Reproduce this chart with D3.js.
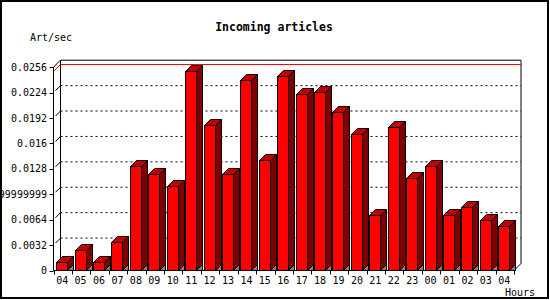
<!DOCTYPE html>
<html>
<head>
<meta charset="utf-8">
<script src="https://cdn.jsdelivr.net/npm/d3@7"></script>
<style>
  body { margin: 0; background: #fff; }
  text { font-family: "DejaVu Sans Mono", monospace; }
</style>
</head>
<body>
<svg id="chart" width="550" height="300"></svg>
<script>
// data
var hours = ["04","05","06","07","08","09","10","11","12","13","14","15","16",
             "17","18","19","20","21","22","23","00","01","02","03","04"];
var artPerSec = [0.00113, 0.00252, 0.00110, 0.00365, 0.01310, 0.01217, 0.01058,
                 0.02506, 0.01835, 0.01217, 0.02393, 0.01394, 0.02443, 0.02225,
                 0.02254, 0.02002, 0.01721, 0.00705, 0.01813, 0.01167, 0.01310,
                 0.00705, 0.00802, 0.00642, 0.00563];
var yTicks = [0, 0.0032, 0.0064, 0.0096, 0.0128, 0.016, 0.0192, 0.0224, 0.0256];
var yTickLabels = ["0","0.0032","0.0064","0.009599999999","0.0128","0.016",
                   "0.0192","0.0224","0.0256"];

var svg = d3.select("#chart");

var left = 53.5, right = 514, wall = 7, depth = 6;
var x = d3.scaleBand().domain(d3.range(hours.length)).range([left, right]);
var y = d3.scaleLinear().domain([0, 0.0256]).range([270.5, 67.2]);
var yb = function(v) { return y(v) - wall; };

// outer frame
svg.append("rect").attr("x", 1).attr("y", 1).attr("width", 547).attr("height", 297)
  .attr("fill", "none").attr("stroke", "#000").attr("stroke-width", 2);

// title and axis names
svg.append("text").attr("x", 274).attr("y", 31).attr("text-anchor", "middle")
  .style("font-size", "11.5px").style("font-weight", "bold").text("Incoming articles");
svg.append("text").attr("x", 30).attr("y", 41).style("font-size", "10px").text("Art/sec");
svg.append("text").attr("x", 505).attr("y", 296).style("font-size", "10px").text("Hours");

// back grid
var grid = svg.append("g");
grid.selectAll("line.g").data(yTicks.slice(1, -1)).enter().append("line")
  .attr("x1", left + wall).attr("x2", right + wall)
  .attr("y1", yb).attr("y2", yb)
  .attr("stroke", "#000").attr("stroke-dasharray", "2,3");
grid.selectAll("line.w").data(yTicks.slice(1, -1)).enter().append("line")
  .attr("x1", left + 2).attr("x2", left + wall)
  .attr("y1", function(d) { return y(d) - 2; }).attr("y2", yb)
  .attr("stroke", "#000");

// max line
var maxV = d3.max(artPerSec);
svg.append("path")
  .attr("d", "M" + left + "," + y(maxV) + "L" + (left + wall) + "," + yb(maxV) +
             "L" + (right + wall - 0.5) + "," + yb(maxV))
  .attr("fill", "none").attr("stroke", "#ff0000");

// frame of the plot
svg.append("path")
  .attr("d", "M" + left + "," + y(0.0256) + "L" + (left + wall) + "," + yb(0.0256) +
             "L" + (right + wall) + "," + yb(0.0256) + "L" + (right + wall) + "," + yb(0) +
             "L" + right + "," + y(0))
  .attr("fill", "none").attr("stroke", "#000");
svg.append("line").attr("x1", left + wall).attr("x2", left + wall)
  .attr("y1", yb(0.0256)).attr("y2", yb(0)).attr("stroke", "#000");

// bars
var bars = svg.append("g").attr("stroke", "#000").attr("stroke-width", 1);
artPerSec.forEach(function(v, i) {
  var x0 = Math.round(x(i) + 2.7) + 0.5, x1 = x0 + 11, t = Math.round(y(v)) + 0.5, b = y(0);
  bars.append("path").attr("fill", "#808080")
    .attr("d", "M" + x1 + "," + b + "L" + (x1 + depth) + "," + (b - depth) + "L" + (x1 + depth) + "," + b + "Z");
  bars.append("path").attr("fill", "#800000")
    .attr("d", "M" + x1 + "," + t + "L" + (x1 + depth) + "," + (t - depth) +
               "L" + (x1 + depth) + "," + (b - depth) + "L" + x1 + "," + b + "Z");
  bars.append("path").attr("fill", "#c00000")
    .attr("d", "M" + x0 + "," + t + "L" + (x0 + depth) + "," + (t - depth) +
               "L" + (x1 + depth) + "," + (t - depth) + "L" + x1 + "," + t + "Z");
  bars.append("rect").attr("fill", "#ff0000")
    .attr("x", x0).attr("y", t).attr("width", x1 - x0).attr("height", b - t);
});

// front y axis
svg.append("line").attr("x1", left).attr("x2", left)
  .attr("y1", y(0.0256)).attr("y2", y(0)).attr("stroke", "#000");
svg.selectAll("line.yt").data(yTicks).enter().append("line")
  .attr("x1", left - 4).attr("x2", left)
  .attr("y1", function(d) { return Math.round(y(d)) + 0.5; })
  .attr("y2", function(d) { return Math.round(y(d)) + 0.5; })
  .attr("stroke", "#000");
svg.selectAll("text.yl").data(yTicks).enter().append("text")
  .attr("x", 47).attr("y", function(d) { return y(d) + 3.5; })
  .attr("text-anchor", "end").style("font-size", "10px")
  .text(function(d, i) { return yTickLabels[i]; });

// front x axis
svg.append("line").attr("x1", left).attr("x2", right)
  .attr("y1", y(0)).attr("y2", y(0)).attr("stroke", "#000");
svg.selectAll("line.xt").data(d3.range(hours.length + 1)).enter().append("line")
  .attr("x1", function(i) { return Math.round(left + i * x.step()) + 0.5; })
  .attr("x2", function(i) { return Math.round(left + i * x.step()) + 0.5; })
  .attr("y1", y(0)).attr("y2", y(0) + 4).attr("stroke", "#000");
svg.selectAll("text.xl").data(hours).enter().append("text")
  .attr("x", function(d, i) { return x(i) + x.bandwidth() / 2 - 0.5; })
  .attr("y", 283.5).attr("text-anchor", "middle").style("font-size", "10px")
  .text(function(d) { return d; });
</script>
</body>
</html>
